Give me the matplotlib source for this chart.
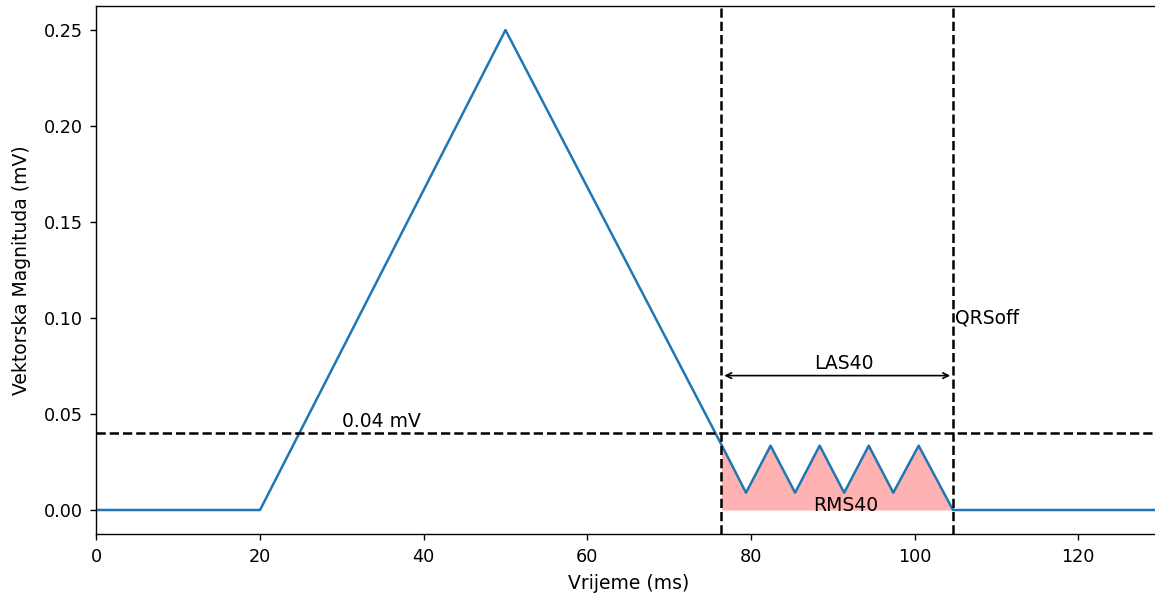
import matplotlib
matplotlib.use("Agg")
import matplotlib.pyplot as plt
import numpy as np

# data
t_ms = [0, 20, 50, 76.4, 79.4, 82.4, 85.4, 88.4, 91.4, 94.4, 97.4, 100.5, 104.7, 130]
vm_mv = [0, 0, 0.25, 0.034, 0.009, 0.0335, 0.009, 0.0335, 0.009, 0.0335, 0.009, 0.0335, 0, 0]
threshold = 0.04
las_start = 76.4
qrs_off = 104.7

fig = plt.figure(figsize=(11.55, 5.93), dpi=100)
ax = fig.add_axes([96.4 / 1155, 1 - 534 / 593, (1160 - 96.4) / 1155, (534 - 6) / 593])

TXT = 13.5
TICK = 12.7

ax.plot(t_ms, vm_mv, color='#1f77b4', lw=1.8)

t = np.array(t_ms)
v = np.array(vm_mv)
mask = (t >= las_start) & (t <= qrs_off)
ax.fill_between(t[mask], 0, v[mask], color='red', alpha=0.3, lw=0)

ax.axhline(threshold, color='black', ls='--', lw=1.8)
ax.axvline(las_start, color='black', ls='--', lw=1.8)
ax.axvline(qrs_off, color='black', ls='--', lw=1.8)

ax.text(30, 0.041, '0.04 mV', fontsize=TXT, ha='left', va='bottom')
ax.annotate('', xy=(las_start, 0.07), xytext=(qrs_off, 0.07),
            arrowprops=dict(arrowstyle='<->', color='black', lw=1.2))
ax.text(91.4, 0.0715, 'LAS40', fontsize=TXT, ha='center', va='bottom')
ax.text(91.6, 0.0025, 'RMS40', fontsize=TXT, ha='center', va='center')
ax.text(qrs_off + 0.2, 0.1, 'QRSoff', fontsize=TXT, ha='left', va='center')

ax.set_xlim(0, 130)
ax.set_ylim(-0.0125, 0.2625)
ax.set_xticks([0, 20, 40, 60, 80, 100, 120])
ax.set_yticks([0.0, 0.05, 0.10, 0.15, 0.20, 0.25])
ax.set_yticklabels(['0.00', '0.05', '0.10', '0.15', '0.20', '0.25'])
ax.tick_params(labelsize=TICK, length=4.5, width=1.0, pad=5.5)
for s in ax.spines.values():
    s.set_linewidth(1.0)
ax.set_xlabel('Vrijeme (ms)', fontsize=TXT, labelpad=5.5)
ax.set_ylabel('Vektorska Magnituda (mV)', fontsize=TXT, labelpad=9)

fig.savefig('out.png', dpi=100)
